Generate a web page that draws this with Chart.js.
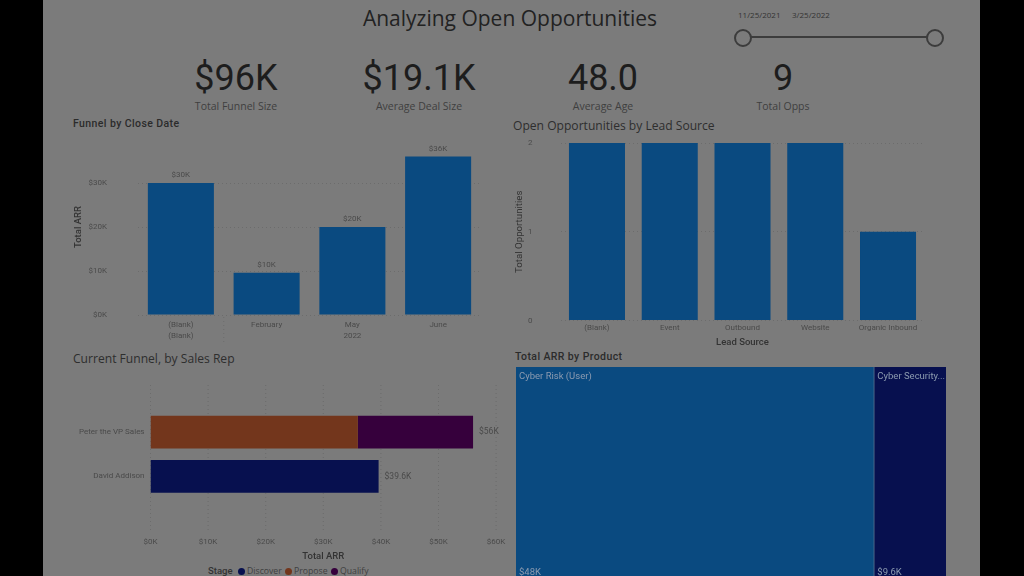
<!DOCTYPE html>
<html>
<head>
<meta charset="utf-8">
<title>Analyzing Open Opportunities</title>
<script src="https://cdn.jsdelivr.net/npm/chart.js@4"></script>
<style>
    html, body { margin: 0; width: 1024px; height: 576px; overflow: hidden; background: #000; }
    #panel { position: absolute; left: 43px; top: 0; width: 937px; height: 576px; background: #7b7b7b; }
    canvas { position: absolute; }
    .txt { position: absolute; white-space: nowrap; color: #242424; font-family: "Open Sans", sans-serif; line-height: 1; }
    .kpi { font-family: Roboto, sans-serif; font-size: 36px; transform: translateX(-50%); color: #1d1d1d; }
    .kpi-label { font-size: 10.5px; transform: translateX(-50%); color: #3f3f3f; }
    .din { font-family: Roboto, sans-serif; font-weight: 500; font-size: 10.5px; letter-spacing: 0.4px; color: #2b2b2b; }
    .sub { font-size: 12.1px; color: #2e2e2e; }
    .dot { position: absolute; width: 7px; height: 7px; border-radius: 50%; }
    #track { position: absolute; left: 743px; top: 36px; width: 192px; height: 2px; background: #3c3c3c; }
    .knob { position: absolute; top: 29px; width: 14px; height: 14px; border: 2px solid #3c3c3c; border-radius: 50%; background: #7b7b7b; }
</style>
</head>
<body>
<div id="panel"></div>
<div class="txt" style="left:510px;top:8px;font-size:21px;transform:translateX(-50%);color:#222">Analyzing Open Opportunities</div>
<div class="txt" style="left:738px;top:11px;font-size:8px;color:#333">11/25/2021</div>
<div class="txt" style="left:792px;top:11px;font-size:8px;color:#333">3/25/2022</div>
<div id="track"></div>
<div class="knob" style="left:734px"></div>
<div class="knob" style="left:926px"></div>
<div id="kpis"></div>
<div class="txt din" style="left:73px;top:119px">Funnel by Close Date</div>
<div class="txt sub" style="left:513px;top:120px">Open Opportunities by Lead Source</div>
<div class="txt sub" style="left:73px;top:353px">Current Funnel, by Sales Rep</div>
<div class="txt din" style="left:515px;top:352px">Total ARR by Product</div>
<canvas id="funnelChart" width="430" height="215" style="left:60px;top:130px"></canvas>
<canvas id="leadChart" width="430" height="218" style="left:505px;top:130px"></canvas>
<canvas id="repChart" width="450" height="187" style="left:60px;top:375px"></canvas>
<canvas id="productChart" width="430" height="209" style="left:516px;top:367px"></canvas>
<div id="legend"></div>

<script>
const kpiValues = ['$96K', '$19.1K', '48.0', '9'];
const kpiLabels = ['Total Funnel Size', 'Average Deal Size', 'Average Age', 'Total Opps'];
const kpiCenters = [236, 419, 603, 783];

const closeDates = [['(Blank)', '(Blank)'], 'February', ['May', '2022'], 'June'];
const funnelArr = [30, 9.6, 20, 36];

const leadSources = ['(Blank)', 'Event', 'Outbound', 'Website', 'Organic Inbound'];
const leadOpps = [2, 2, 2, 2, 1];

const salesReps = ['Peter the VP Sales', 'David Addison'];
const stages = ['Discover', 'Propose', 'Qualify'];
const discoverArr = [0, 39.6];
const proposeArr = [36, 0];
const qualifyArr = [20, 0];
const stageColors = ['#07104f', '#73361c', '#36003c'];
const legendDots = [238, 285, 331];

const products = ['Cyber Risk (User)', 'Cyber Security...'];
const productArr = [48, 9.6];
const productLabels = ['$48K', '$9.6K'];
const productColors = ['#0a4a80', '#07104f'];

const BLUE = '#0a4a80';
const TICK = '#4a4a4a';
const GRID = '#6c6c6c';
const FONT = 'Roboto, sans-serif';

kpiValues.forEach((v, i) => {
    document.getElementById('kpis').innerHTML +=
        `<div class="txt kpi" style="left:${kpiCenters[i]}px;top:60px">${v}</div>` +
        `<div class="txt kpi-label" style="left:${kpiCenters[i]}px;top:101px">${kpiLabels[i]}</div>`;
});

let legendHtml = '<div class="txt din" style="left:208px;top:566px;color:#333;font-size:9.5px;letter-spacing:0">Stage</div>';
stages.forEach((s, i) => {
    legendHtml += `<div class="dot" style="left:${legendDots[i]}px;top:568px;background:${stageColors[i]}"></div>` +
        `<div class="txt" style="left:${legendDots[i] + 9}px;top:567px;font-size:8.7px;color:#3f3f3f">${s}</div>`;
});
document.getElementById('legend').innerHTML = legendHtml;

// fit() adds tick padding to the plot margins, drop that so the plots land where they should
function fixBox(scale, size) {
    scale.paddingLeft = 0;
    scale.paddingRight = 0;
    scale.paddingTop = 0;
    scale.paddingBottom = 0;
    if (scale.isHorizontal()) {
        scale.height = size;
    } else {
        scale.width = size;
    }
}

// value on top of each column
const barLabels = {
    id: 'barLabels',
    afterDatasetsDraw(chart) {
        const c = chart.ctx;
        c.save();
        c.font = '8px ' + FONT;
        c.fillStyle = TICK;
        c.textAlign = 'center';
        chart.getDatasetMeta(0).data.forEach((bar, i) => {
            c.fillText('$' + Math.round(funnelArr[i]) + 'K', bar.x, bar.y - 6);
        });
        c.restore();
    }
};

// dotted separator between the (Blank) year and 2022
const yearSplit = {
    id: 'yearSplit',
    afterDraw(chart) {
        const x = (chart.getDatasetMeta(0).data[0].x + chart.getDatasetMeta(0).data[1].x) / 2;
        const c = chart.ctx;
        c.save();
        c.strokeStyle = GRID;
        c.setLineDash([1, 3]);
        c.beginPath();
        c.moveTo(x, chart.chartArea.bottom + 2);
        c.lineTo(x, chart.height - 1);
        c.stroke();
        c.restore();
    }
};

// the rep chart's grid runs well above and below its two bars
const tallGrid = {
    id: 'tallGrid',
    beforeDatasetsDraw(chart) {
        const c = chart.ctx;
        const scale = chart.scales.x;
        c.save();
        c.strokeStyle = GRID;
        c.setLineDash([1, 3]);
        scale.ticks.forEach(t => {
            const x = scale.getPixelForValue(t.value);
            c.beginPath();
            c.moveTo(x, 10);
            c.lineTo(x, 157);
            c.stroke();
        });
        c.restore();
    }
};

const repTotals = {
    id: 'repTotals',
    afterDatasetsDraw(chart) {
        const c = chart.ctx;
        const scale = chart.scales.x;
        c.save();
        c.font = '8.5px ' + FONT;
        c.fillStyle = TICK;
        c.textBaseline = 'middle';
        salesReps.forEach((r, i) => {
            const total = discoverArr[i] + proposeArr[i] + qualifyArr[i];
            c.fillText('$' + total + 'K', scale.getPixelForValue(total) + 6, chart.scales.y.getPixelForValue(i));
        });
        c.restore();
    }
};

const productText = {
    id: 'productText',
    afterDatasetsDraw(chart) {
        const c = chart.ctx;
        c.save();
        c.fillStyle = '#8c9bb0';
        c.font = '9.5px ' + FONT;
        products.forEach((p, i) => {
            const bar = chart.getDatasetMeta(i).data[0];
            const left = Math.min(bar.base, bar.x);
            c.fillText(p, left + 3, 12);
            c.fillText(productLabels[i], left + 3, 208);
        });
        c.restore();
    }
};

new Chart(document.getElementById('funnelChart'), {
    type: 'bar',
    data: {
        labels: closeDates,
        datasets: [{ data: funnelArr, backgroundColor: BLUE, barPercentage: 0.77, categoryPercentage: 1 }]
    },
    plugins: [barLabels, yearSplit],
    options: {
        responsive: false,
        animation: false,
        layout: { padding: { top: 9, right: 9 } },
        plugins: { legend: { display: false }, tooltip: { enabled: false } },
        scales: {
            x: {
                grid: { display: false, drawTicks: false },
                border: { display: false },
                afterFit: s => fixBox(s, 30),
                ticks: { color: TICK, font: { size: 8, family: FONT, lineHeight: 1.45 }, maxRotation: 0, autoSkip: false, padding: 4 }
            },
            y: {
                min: 0,
                max: 40,
                afterFit: s => fixBox(s, 78),
                afterBuildTicks: s => { s.ticks = s.ticks.filter(t => t.value <= 30); },
                border: { display: false, dash: [1, 3] },
                grid: { color: GRID, drawTicks: false, lineWidth: 1 },
                title: { display: true, text: 'Total ARR', color: '#333', font: { size: 9.5, family: FONT, weight: 500 }, padding: { top: 13, bottom: 0 } },
                ticks: { stepSize: 10, color: TICK, font: { size: 8, family: FONT }, padding: 31, callback: v => '$' + v + 'K' }
            }
        }
    }
});

new Chart(document.getElementById('leadChart'), {
    type: 'bar',
    data: {
        labels: leadSources,
        datasets: [{ data: leadOpps, backgroundColor: BLUE, barPercentage: 0.77, categoryPercentage: 1 }]
    },
    options: {
        responsive: false,
        animation: false,
        layout: { padding: { top: 13, right: 10.6 } },
        plugins: { legend: { display: false }, tooltip: { enabled: false } },
        scales: {
            x: {
                grid: { display: false, drawTicks: false },
                border: { display: false },
                afterFit: s => fixBox(s, 27.5),
                title: { display: true, text: 'Lead Source', color: '#333', font: { size: 9.5, family: FONT, weight: 500 }, padding: 0 },
                ticks: { color: TICK, font: { size: 8, family: FONT }, maxRotation: 0, autoSkip: false, padding: 3 }
            },
            y: {
                min: 0,
                max: 2,
                afterFit: s => fixBox(s, 55.6),
                border: { display: false, dash: [1, 3] },
                grid: { color: GRID, drawTicks: false, lineWidth: 1 },
                title: { display: true, text: 'Total Opportunities', color: '#333', font: { size: 9.7, family: FONT }, padding: { top: 9, bottom: 0 } },
                ticks: { stepSize: 1, color: TICK, font: { size: 8, family: FONT }, padding: 28 }
            }
        }
    }
});

new Chart(document.getElementById('repChart'), {
    type: 'bar',
    data: {
        labels: salesReps,
        datasets: stages.map((s, i) => ({
            label: s,
            data: [discoverArr, proposeArr, qualifyArr][i],
            backgroundColor: stageColors[i],
            barPercentage: 0.74,
            categoryPercentage: 1
        }))
    },
    plugins: [tallGrid, repTotals],
    options: {
        indexAxis: 'y',
        responsive: false,
        animation: false,
        layout: { padding: { top: 35, right: 13.9 } },
        plugins: { legend: { display: false }, tooltip: { enabled: false } },
        scales: {
            x: {
                stacked: true,
                min: 0,
                max: 60,
                grid: { display: false, drawTicks: false },
                border: { display: false },
                afterFit: s => fixBox(s, 63.5),
                title: { display: true, text: 'Total ARR', color: '#333', font: { size: 9.5, family: FONT, weight: 500 }, padding: 0 },
                ticks: { stepSize: 10, color: TICK, font: { size: 8, family: FONT }, maxRotation: 0, padding: 39, callback: v => '$' + v + 'K' }
            },
            y: {
                stacked: true,
                afterFit: s => fixBox(s, 90.5),
                grid: { display: false, drawTicks: false },
                border: { display: false },
                ticks: { color: TICK, font: { size: 8, family: FONT }, padding: 6 }
            }
        }
    }
});

new Chart(document.getElementById('productChart'), {
    type: 'bar',
    data: {
        labels: ['Total ARR'],
        datasets: products.map((p, i) => ({
            label: p,
            data: [productArr[i]],
            backgroundColor: productColors[i],
            borderColor: '#5f7590',
            borderWidth: { right: i === 0 ? 1 : 0 },
            barPercentage: 1,
            categoryPercentage: 1
        }))
    },
    plugins: [productText],
    options: {
        indexAxis: 'y',
        responsive: false,
        animation: false,
        plugins: { legend: { display: false }, tooltip: { enabled: false } },
        scales: {
            x: { stacked: true, display: false, min: 0, max: productArr[0] + productArr[1] },
            y: { stacked: true, display: false }
        }
    }
});
</script>
</body>
</html>
